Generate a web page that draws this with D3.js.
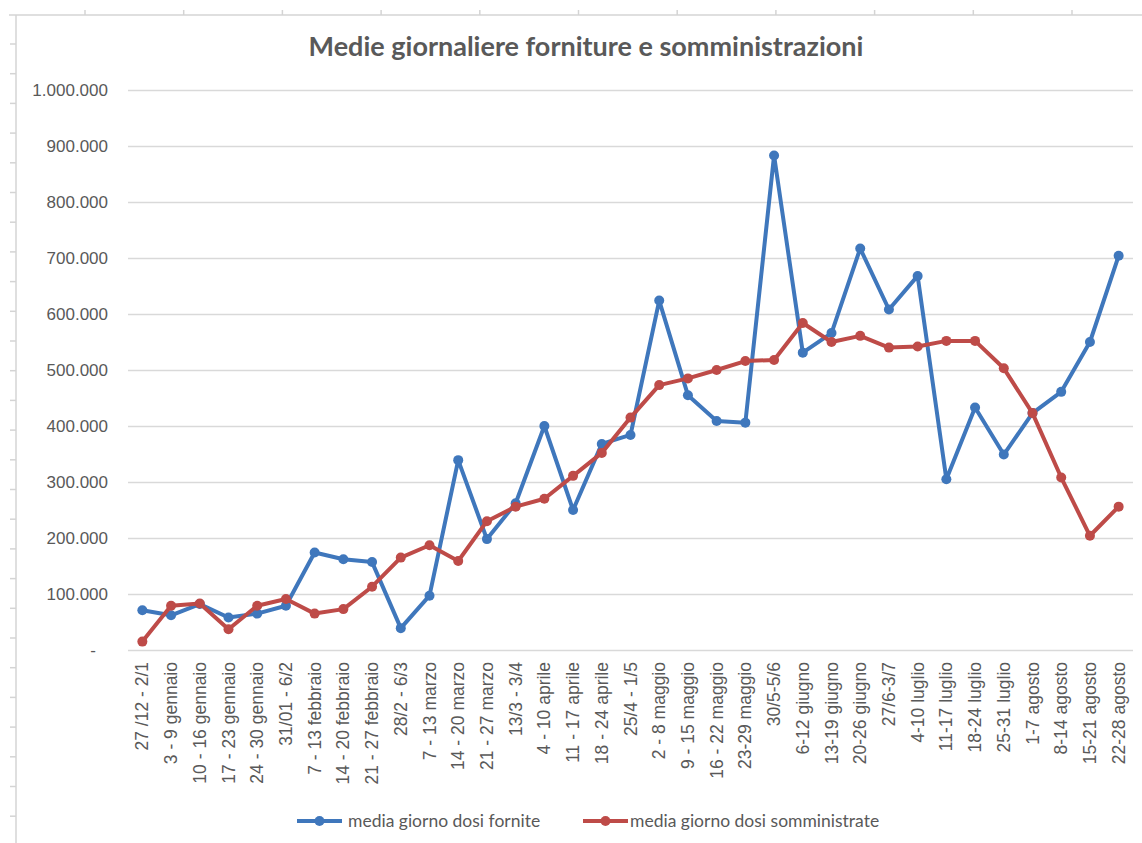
<!DOCTYPE html>
<html>
<head>
<meta charset="utf-8">
<script src="https://cdn.jsdelivr.net/npm/d3@7"></script>
<style>
  body { margin: 0; background: #fff; }
  svg { display: block; font-family: Lato, "Open Sans", sans-serif; }
</style>
</head>
<body>
<svg id="chart" width="1142" height="843"></svg>
<script>
// settimane (etichette asse x)
var settimane = [
  "27 /12 - 2/1", "3 - 9 gennaio", "10 - 16 gennaio", "17 - 23 gennaio", "24 - 30 gennaio",
  "31/01 - 6/2", "7 - 13 febbraio", "14 - 20 febbraio", "21 - 27 febbraio", "28/2 - 6/3",
  "7 - 13 marzo", "14 - 20 marzo", "21 - 27 marzo", "13/3 - 3/4", "4 - 10 aprile",
  "11 - 17 aprile", "18 - 24 aprile", "25/4 - 1/5", "2 - 8 maggio", "9 - 15 maggio",
  "16 - 22 maggio", "23-29 maggio", "30/5-5/6", "6-12 giugno", "13-19 giugno",
  "20-26 giugno", "27/6-3/7", "4-10 luglio", "11-17 luglio", "18-24 luglio",
  "25-31 luglio", "1-7 agosto", "8-14 agosto", "15-21 agosto", "22-28 agosto"
];

// media giorno dosi fornite
var fornite = [
  71000, 62000, 82000, 58000, 65000, 79000, 174000, 162000, 157000, 39000,
  97000, 339000, 198000, 262000, 400000, 250000, 368000, 384000, 624000, 455000,
  409000, 406000, 883000, 531000, 566000, 717000, 608000, 668000, 305000, 433000,
  349000, 423000, 461000, 550000, 704000
];

// media giorno dosi somministrate
var somministrate = [
  15000, 79000, 83000, 37000, 79000, 91000, 65000, 73000, 113000, 165000,
  187000, 159000, 230000, 256000, 270000, 311000, 352000, 415000, 473000, 485000,
  500000, 516000, 518000, 584000, 550000, 561000, 540000, 542000, 552000, 552000,
  503000, 423000, 308000, 204000, 256000
];

var yTicks = [0, 100000, 200000, 300000, 400000, 500000, 600000, 700000, 800000, 900000, 1000000];

var serie = [
  {name: "media giorno dosi fornite", values: fornite, color: "#3f77bc"},
  {name: "media giorno dosi somministrate", values: somministrate, color: "#be4b48"}
];

var svg = d3.select("#chart");
var textColor = "#595959";
var gridColor = "#d9d9d9";

// sfondo foglio di calcolo (intestazioni righe/colonne)
var sheet = svg.append("g").attr("stroke", "#d4d4d4").attr("stroke-width", 1.5);
sheet.append("line").attr("x1", 9).attr("x2", 1142).attr("y1", 15).attr("y2", 15);
sheet.append("line").attr("x1", 16).attr("x2", 16).attr("y1", 15).attr("y2", 843);
d3.range(85, 1142, 98.7).forEach(function (x) {
  sheet.append("line").attr("x1", x).attr("x2", x).attr("y1", 10).attr("y2", 15);
});
d3.range(44, 843, 29.7).forEach(function (y) {
  sheet.append("line").attr("x1", 10).attr("x2", 16).attr("y1", y).attr("y2", y);
});

var plotLeft = 128, plotRight = 1133, plotTop = 90, plotBottom = 650;

var x = d3.scaleBand().domain(settimane).range([plotLeft, plotRight]);
var y = d3.scaleLinear().domain([0, 1000000]).range([plotBottom, plotTop]);
var cx = function (i) { return x(settimane[i]) + x.bandwidth() / 2; };

var it = d3.formatLocale({decimal: ",", thousands: ".", grouping: [3], currency: ["€", ""]});
var fmt = it.format(",.0f");

// asse y + griglia
var yAxis = svg.append("g")
  .attr("transform", "translate(" + plotLeft + ",0)")
  .call(d3.axisLeft(y)
    .tickValues(yTicks)
    .tickSizeInner(-(plotRight - plotLeft))
    .tickSizeOuter(0)
    .tickPadding(20)
    .tickFormat(function (d) { return d === 0 ? "-" : fmt(d); }));
yAxis.select(".domain").remove();
yAxis.selectAll(".tick line").attr("stroke", gridColor).attr("stroke-width", 1.5);
yAxis.selectAll(".tick text")
  .attr("fill", textColor)
  .style("font-size", "17px");
yAxis.selectAll(".tick text").filter(function (d) { return d === 0; }).attr("dx", -12);

// asse x
var xAxis = svg.append("g")
  .attr("transform", "translate(0," + plotBottom + ")")
  .call(d3.axisBottom(x).tickSize(0).tickPadding(0));
xAxis.select(".domain").remove();
xAxis.selectAll(".tick text")
  .attr("fill", textColor)
  .style("font-size", "17.5px")
  .attr("text-anchor", "end")
  .attr("transform", "rotate(-90)")
  .attr("x", -12)
  .attr("y", 0)
  .attr("dy", "0.35em");

// titolo
svg.append("text")
  .attr("x", 586)
  .attr("y", 56)
  .attr("text-anchor", "middle")
  .attr("fill", textColor)
  .style("font-size", "27px")
  .style("font-weight", "bold")
  .text("Medie giornaliere forniture e somministrazioni");

// linee
var line = d3.line()
  .x(function (d, i) { return cx(i); })
  .y(function (d) { return y(d); });

serie.forEach(function (s) {
  var g = svg.append("g");
  g.append("path")
    .datum(s.values)
    .attr("fill", "none")
    .attr("stroke", s.color)
    .attr("stroke-width", 4)
    .attr("stroke-linejoin", "round")
    .attr("d", line);
  g.selectAll("circle")
    .data(s.values)
    .enter()
    .append("circle")
    .attr("cx", function (d, i) { return cx(i); })
    .attr("cy", function (d) { return y(d); })
    .attr("r", 5)
    .attr("fill", s.color);
});

// legenda
var legendX = [297, 583];
serie.forEach(function (s, i) {
  var lg = svg.append("g").attr("transform", "translate(" + legendX[i] + ",821)");
  lg.append("line").attr("x1", 0).attr("x2", 45).attr("y1", 0).attr("y2", 0)
    .attr("stroke", s.color).attr("stroke-width", 4);
  lg.append("circle").attr("cx", 22.5).attr("cy", 0).attr("r", 5).attr("fill", s.color);
  lg.append("text")
    .attr("x", i === 0 ? 51 : 47)
    .attr("y", 0)
    .attr("dy", "0.35em")
    .attr("fill", textColor)
    .style("font-size", "17.5px")
    .text(s.name);
});
</script>
</body>
</html>
